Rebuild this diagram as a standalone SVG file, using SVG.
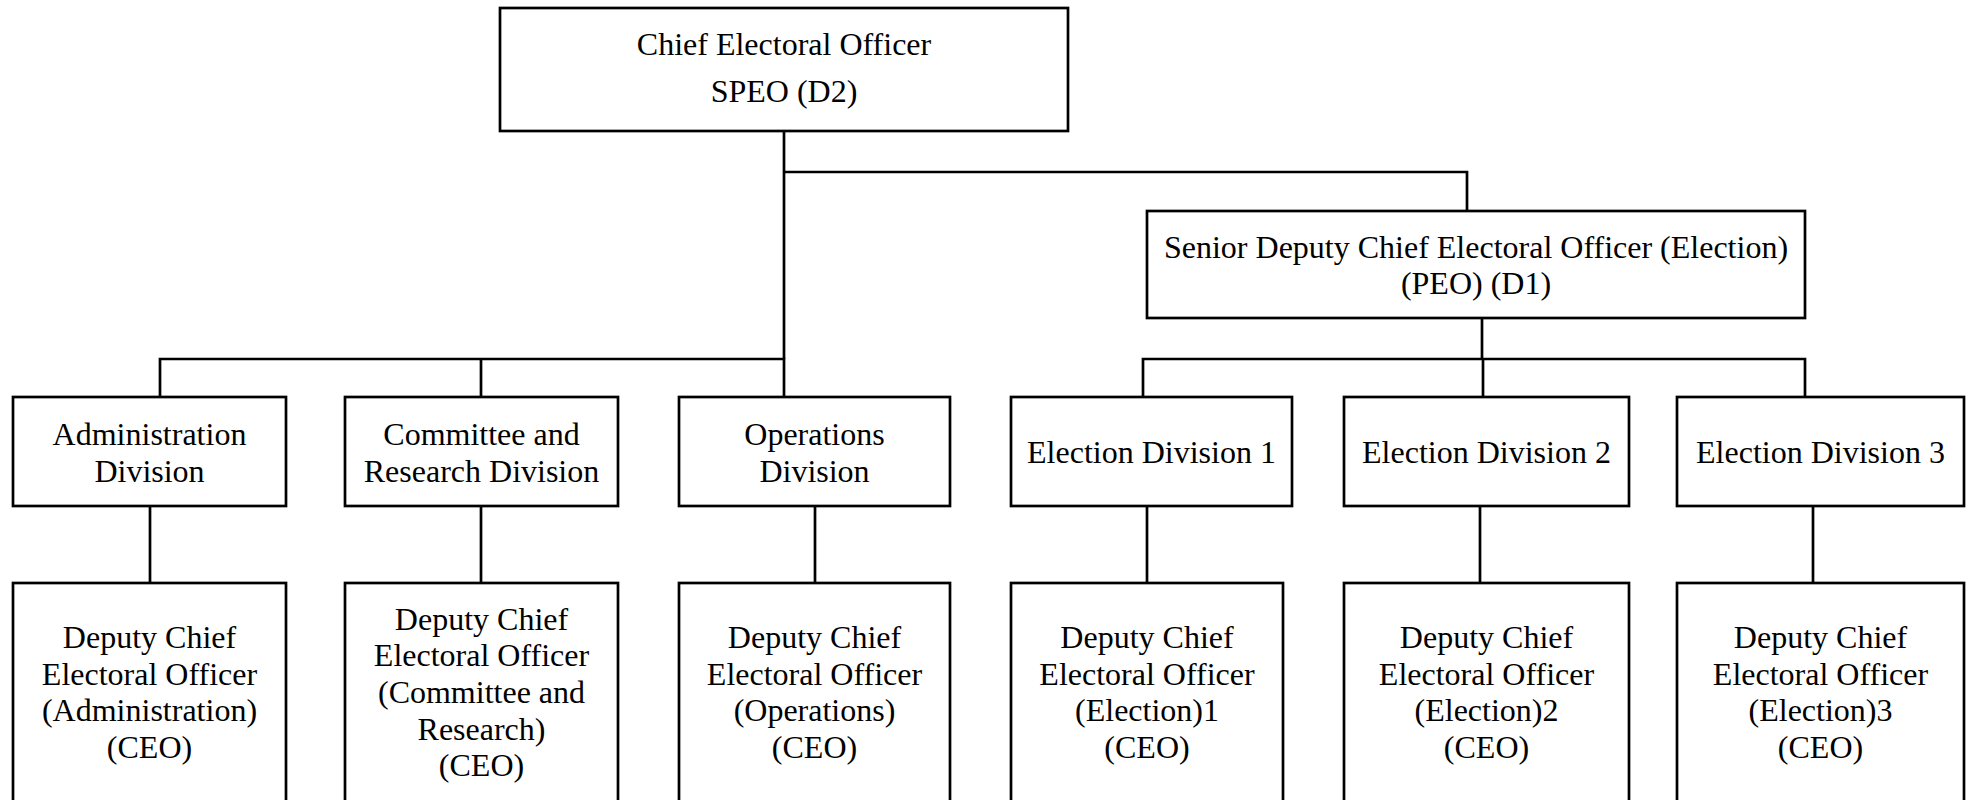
<svg xmlns="http://www.w3.org/2000/svg" width="1973" height="800" viewBox="0 0 1973 800">
<style>
.box{fill:#fff;stroke:#000;stroke-width:2.7}
.lbl{font-family:"Liberation Serif","Times New Roman",serif;font-size:32px;fill:#000;text-anchor:middle}
.conn{fill:none;stroke:#000;stroke-width:2.7}
</style>
<rect x="0" y="0" width="1973" height="800" fill="#fff"/>
<g id="connectors" class="conn">
<path d="M784,131 V359"/>
<path d="M784,172 H1467 V211"/>
<path d="M160,397 V359 H784 V397"/>
<path d="M481,359 V397"/>
<path d="M1482,318 V359"/>
<path d="M1143,397 V359 H1805 V397"/>
<path d="M1483,359 V397"/>
<path d="M150,506 V583"/>
<path d="M481,506 V583"/>
<path d="M815,506 V583"/>
<path d="M1147,506 V583"/>
<path d="M1480,506 V583"/>
<path d="M1813,506 V583"/>
</g>
<g id="chief">
<rect class="box" x="500" y="8" width="568" height="123"/>
<text class="lbl" x="784" y="55">Chief Electoral Officer</text>
<text class="lbl" x="784" y="102">SPEO (D2)</text>
</g>
<g id="senior-deputy">
<rect class="box" x="1147" y="211" width="658" height="107"/>
<text class="lbl" x="1476" y="258">Senior Deputy Chief Electoral Officer (Election)</text>
<text class="lbl" x="1476" y="294">(PEO) (D1)</text>
</g>
<g id="admin-division">
<rect class="box" x="13" y="397" width="273" height="109"/>
<text class="lbl" x="149.5" y="445">Administration</text>
<text class="lbl" x="149.5" y="482">Division</text>
</g>
<g id="committee-division">
<rect class="box" x="345" y="397" width="273" height="109"/>
<text class="lbl" x="481.5" y="445">Committee and</text>
<text class="lbl" x="481.5" y="482">Research Division</text>
</g>
<g id="operations-division">
<rect class="box" x="679" y="397" width="271" height="109"/>
<text class="lbl" x="814.5" y="445">Operations</text>
<text class="lbl" x="814.5" y="482">Division</text>
</g>
<g id="election-division-1">
<rect class="box" x="1011" y="397" width="281" height="109"/>
<text class="lbl" x="1151.5" y="463">Election Division 1</text>
</g>
<g id="election-division-2">
<rect class="box" x="1344" y="397" width="285" height="109"/>
<text class="lbl" x="1486.5" y="463">Election Division 2</text>
</g>
<g id="election-division-3">
<rect class="box" x="1677" y="397" width="287" height="109"/>
<text class="lbl" x="1820.5" y="463">Election Division 3</text>
</g>
<g id="dceo-admin">
<rect class="box" x="13" y="583" width="273" height="240"/>
<text class="lbl" x="149.5" y="648">Deputy Chief</text>
<text class="lbl" x="149.5" y="685">Electoral Officer</text>
<text class="lbl" x="149.5" y="721">(Administration)</text>
<text class="lbl" x="149.5" y="758">(CEO)</text>
</g>
<g id="dceo-committee">
<rect class="box" x="345" y="583" width="273" height="240"/>
<text class="lbl" x="481.5" y="630">Deputy Chief</text>
<text class="lbl" x="481.5" y="666">Electoral Officer</text>
<text class="lbl" x="481.5" y="703">(Committee and</text>
<text class="lbl" x="481.5" y="740">Research)</text>
<text class="lbl" x="481.5" y="776">(CEO)</text>
</g>
<g id="dceo-operations">
<rect class="box" x="679" y="583" width="271" height="240"/>
<text class="lbl" x="814.5" y="648">Deputy Chief</text>
<text class="lbl" x="814.5" y="685">Electoral Officer</text>
<text class="lbl" x="814.5" y="721">(Operations)</text>
<text class="lbl" x="814.5" y="758">(CEO)</text>
</g>
<g id="dceo-election-1">
<rect class="box" x="1011" y="583" width="272" height="240"/>
<text class="lbl" x="1147" y="648">Deputy Chief</text>
<text class="lbl" x="1147" y="685">Electoral Officer</text>
<text class="lbl" x="1147" y="721">(Election)1</text>
<text class="lbl" x="1147" y="758">(CEO)</text>
</g>
<g id="dceo-election-2">
<rect class="box" x="1344" y="583" width="285" height="240"/>
<text class="lbl" x="1486.5" y="648">Deputy Chief</text>
<text class="lbl" x="1486.5" y="685">Electoral Officer</text>
<text class="lbl" x="1486.5" y="721">(Election)2</text>
<text class="lbl" x="1486.5" y="758">(CEO)</text>
</g>
<g id="dceo-election-3">
<rect class="box" x="1677" y="583" width="287" height="240"/>
<text class="lbl" x="1820.5" y="648">Deputy Chief</text>
<text class="lbl" x="1820.5" y="685">Electoral Officer</text>
<text class="lbl" x="1820.5" y="721">(Election)3</text>
<text class="lbl" x="1820.5" y="758">(CEO)</text>
</g>
</svg>
